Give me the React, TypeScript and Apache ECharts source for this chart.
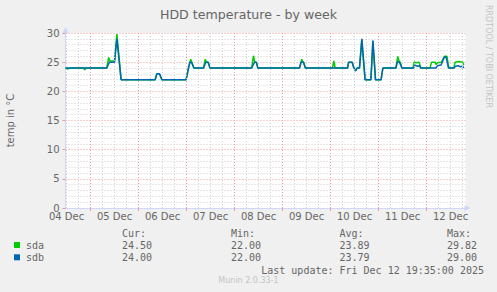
import { useEffect, useRef } from 'react';
import * as echarts from 'echarts';

const titleText = 'HDD temperature - by week';
const yAxisTitle = 'temp in °C';
const dayLabels = ['04 Dec', '05 Dec', '06 Dec', '07 Dec', '08 Dec', '09 Dec', '10 Dec', '11 Dec', '12 Dec'];
// hours since graph start (Dec 4, 11:30)
const dayLabelHours = [0.5, 24.5, 48.5, 72.5, 96.5, 120.5, 144.5, 168.5, 192.5];
const midnightHours = [12.5, 36.5, 60.5, 84.5, 108.5, 132.5, 156.5, 180.5];
const sixHourHours = [
  0.5, 6.5, 12.5, 18.5, 24.5, 30.5, 36.5, 42.5, 48.5, 54.5, 60.5, 66.5, 72.5, 78.5, 84.5, 90.5, 96.5,
  102.5, 108.5, 114.5, 120.5, 126.5, 132.5, 138.5, 144.5, 150.5, 156.5, 162.5, 168.5, 174.5, 180.5,
  186.5, 192.5, 198.5,
];
const xMin = 0;
const xMax = 200;
const yMin = 0;
const yMax = 30;
const yStep = 5;

const seriesNames = ['sda', 'sdb'];
const seriesColors = ['#00CC00', '#0066B3'];

const sda: [number, number][] = [
  [0, 24], [1, 23.8], [2, 24], [9, 24], [9.6, 23.7], [10.4, 24],
  [20.6, 24], [21.6, 25.8], [22.2, 25.2], [24.5, 25.2], [25.7, 29.8], [27.8, 22],
  [44.8, 22], [45.7, 23], [47, 23], [48.2, 22],
  [60.3, 22], [61.5, 24], [62.6, 25.5], [63.2, 25], [64.2, 24],
  [69, 24], [69.9, 25.5], [70.5, 25], [71.3, 25], [72.3, 24],
  [93.1, 24], [94, 26.1], [94.6, 25], [95.4, 25], [96.2, 24],
  [117, 24], [118.1, 25.5], [118.6, 25], [119.1, 25], [119.9, 24],
  [133.5, 24], [134.2, 25.2], [134.8, 24],
  [141, 24], [141.6, 25], [143.3, 25], [144, 24.2], [145, 23.5], [145.8, 24],
  [147, 24], [148.1, 28.8], [149.8, 22], [152.7, 22], [153.7, 28.6], [155, 22], [157.8, 22], [158.7, 24],
  [165.2, 24], [166.1, 26], [166.6, 25.4], [167.3, 25], [168.3, 24],
  [173.8, 24], [174.3, 25], [175.5, 24.9], [176.5, 25], [177, 24.8], [177.6, 24],
  [182.3, 24], [183, 25], [184.8, 25], [185.3, 24.6], [186, 24.9], [188, 25], [189.5, 26], [190.7, 26], [191.7, 24],
  [194.2, 24], [194.8, 25], [196.5, 25.1], [198.5, 25], [199.2, 24.5],
];

const sdb: [number, number][] = [
  [0, 24],
  [20.6, 24], [22, 25], [24.5, 25], [25.7, 29], [27.8, 22],
  [44.8, 22], [45.7, 23], [47, 23], [48.2, 22],
  [60.3, 22], [61.5, 24], [62.2, 25], [63, 25], [64.2, 24],
  [69, 24], [70.2, 25], [71.3, 25], [72.3, 24],
  [93.1, 24], [94.5, 25], [95.4, 25], [96.2, 24],
  [117, 24], [117.8, 25], [119, 25], [119.9, 24],
  [141, 24], [141.6, 25], [143.3, 25], [144, 24.2], [145, 23.5], [145.8, 24],
  [147, 24], [148.2, 29], [149.8, 22], [152.7, 22], [153.7, 28.7], [155, 22], [157.8, 22], [158.7, 24],
  [165.2, 24], [166, 25.1], [167, 25], [168.2, 24],
  [174, 24], [174.8, 24.5], [176, 24.3], [177, 24.4], [177.6, 24],
  [185.2, 24], [186, 24.4], [187.8, 24.5], [189.3, 25.8], [190.3, 25.9], [191.5, 24],
  [194.2, 24], [195, 24.3], [196.5, 24.4], [197.5, 24.2], [198.5, 24.3], [199.2, 24],
];

const statHeaders = ['Cur:', 'Min:', 'Avg:', 'Max:'];
const sdaStats = ['24.50', '22.00', '23.89', '29.82'];
const sdbStats = ['24.00', '22.00', '23.79', '29.00'];
const lastUpdate = 'Last update: Fri Dec 12 19:35:00 2025';
const muninVersion = 'Munin 2.0.33-1';
const rrdCredit = 'RRDTOOL / TOBI OETIKER';

const TEXT = '#666666';
const AXIS = '#CFD6F8';
const MGRID = '#EE9A9A';
const GRID = '#CFCFCF';
const SANS = '"DejaVu Sans", sans-serif';
const MONO = '"DejaVu Sans Mono", monospace';

export default function App() {
  const ref = useRef<HTMLDivElement>(null);

  useEffect(() => {
    if (!ref.current) return;
    const chart = echarts.init(ref.current, null, { renderer: 'svg' });

    const statCols = [122, 231, 339.5, 447];
    const rowY = [245.5, 257.8];
    const statRows = [sdaStats, sdbStats];

    const graphics: any[] = [
      {
        type: 'text', x: 248.5, y: 14,
        style: { text: titleText, fill: TEXT, font: `12.6px ${SANS}`, align: 'center', verticalAlign: 'middle' },
      },
      {
        type: 'text', x: 10, y: 120.5, rotation: Math.PI / 2,
        style: { text: yAxisTitle, fill: TEXT, font: `10px ${SANS}`, align: 'center', verticalAlign: 'middle' },
      },
      {
        type: 'text', x: 488.5, y: 56.5, rotation: -Math.PI / 2,
        style: { text: rrdCredit, fill: '#C4C4C4', font: `8px ${SANS}`, align: 'center', verticalAlign: 'middle' },
      },
      {
        type: 'text', x: 248.5, y: 280.7,
        style: { text: muninVersion, fill: '#C4C4C4', font: `8px ${SANS}`, align: 'center', verticalAlign: 'middle' },
      },
      {
        type: 'text', x: 484, y: 270,
        style: { text: lastUpdate, fill: TEXT, font: `10px ${MONO}`, align: 'right', verticalAlign: 'middle' },
      },
    ];
    statHeaders.forEach((h, i) => {
      graphics.push({
        type: 'text', x: statCols[i], y: 233.5,
        style: { text: h, fill: TEXT, font: `10px ${MONO}`, align: 'left', verticalAlign: 'middle' },
      });
    });
    seriesNames.forEach((name, r) => {
      graphics.push({
        type: 'rect', shape: { x: 14, y: rowY[r] - 3.5, width: 6, height: 6 },
        style: { fill: seriesColors[r] },
      });
      graphics.push({
        type: 'text', x: 26, y: rowY[r],
        style: { text: name, fill: TEXT, font: `10px ${MONO}`, align: 'left', verticalAlign: 'middle' },
      });
      statRows[r].forEach((v, i) => {
        graphics.push({
          type: 'text', x: statCols[i], y: rowY[r],
          style: { text: v, fill: TEXT, font: `10px ${MONO}`, align: 'left', verticalAlign: 'middle' },
        });
      });
    });

    const dotted = [1, 2];

    chart.setOption({
      animation: false,
      backgroundColor: '#F0F0F0',
      grid: {
        left: 65.5, top: 33, width: 400, height: 175,
        show: true, backgroundColor: '#FFFFFF', borderWidth: 0,
      },
      xAxis: {
        type: 'value', min: xMin, max: xMax,
        axisLine: {
          show: true, lineStyle: { color: AXIS, width: 1 },
          symbol: ['none', 'triangle'], symbolSize: [6, 6], symbolOffset: [0, 2],
        },
        axisTick: { show: true, customValues: midnightHours, length: 3, lineStyle: { color: MGRID } },
        axisLabel: {
          customValues: dayLabelHours,
          formatter: (v: number) => {
            const i = dayLabelHours.indexOf(v);
            return i >= 0 ? dayLabels[i] : '';
          },
          color: TEXT, fontFamily: SANS, fontSize: 10, lineHeight: 8, margin: 4,
        },
        splitLine: { show: false },
      },
      yAxis: {
        type: 'value', min: yMin, max: yMax, interval: yStep,
        axisLine: {
          show: true, lineStyle: { color: AXIS, width: 1 },
          symbol: ['none', 'triangle'], symbolSize: [6, 6], symbolOffset: [0, 3],
        },
        axisTick: { show: true, length: 3, lineStyle: { color: MGRID } },
        axisLabel: { color: TEXT, fontFamily: SANS, fontSize: 10, lineHeight: 8, margin: 6 },
        splitLine: { show: true, lineStyle: { color: MGRID, type: dotted, width: 1 } },
        minorTick: { show: false, splitNumber: 5 },
        minorSplitLine: { show: true, lineStyle: { color: GRID, type: dotted, width: 1 } },
      },
      series: [
        {
          type: 'line', name: 'grid', data: [], z: 1, silent: true,
          markLine: {
            silent: true, animation: false, symbol: ['none', 'none'], label: { show: false },
            emphasis: { disabled: true },
            data: [
              ...sixHourHours.map((h) => ({ xAxis: h, lineStyle: { color: GRID, type: dotted, width: 1 } })),
              ...midnightHours.map((h) => ({ xAxis: h, lineStyle: { color: MGRID, type: dotted, width: 1 } })),
            ],
          },
        },
        {
          type: 'line', name: seriesNames[0], data: sda, z: 2,
          showSymbol: false, symbol: 'none',
          lineStyle: { color: seriesColors[0], width: 1.5 },
        },
        {
          type: 'line', name: seriesNames[1], data: sdb, z: 3,
          showSymbol: false, symbol: 'none',
          lineStyle: { color: seriesColors[1], width: 1.5 },
        },
      ],
      graphic: graphics,
    });

    return () => chart.dispose();
  }, []);

  return (
    <div
      ref={ref}
      style={{ position: 'fixed', left: 0, top: 0, width: 497, height: 292 }}
    />
  );
}
